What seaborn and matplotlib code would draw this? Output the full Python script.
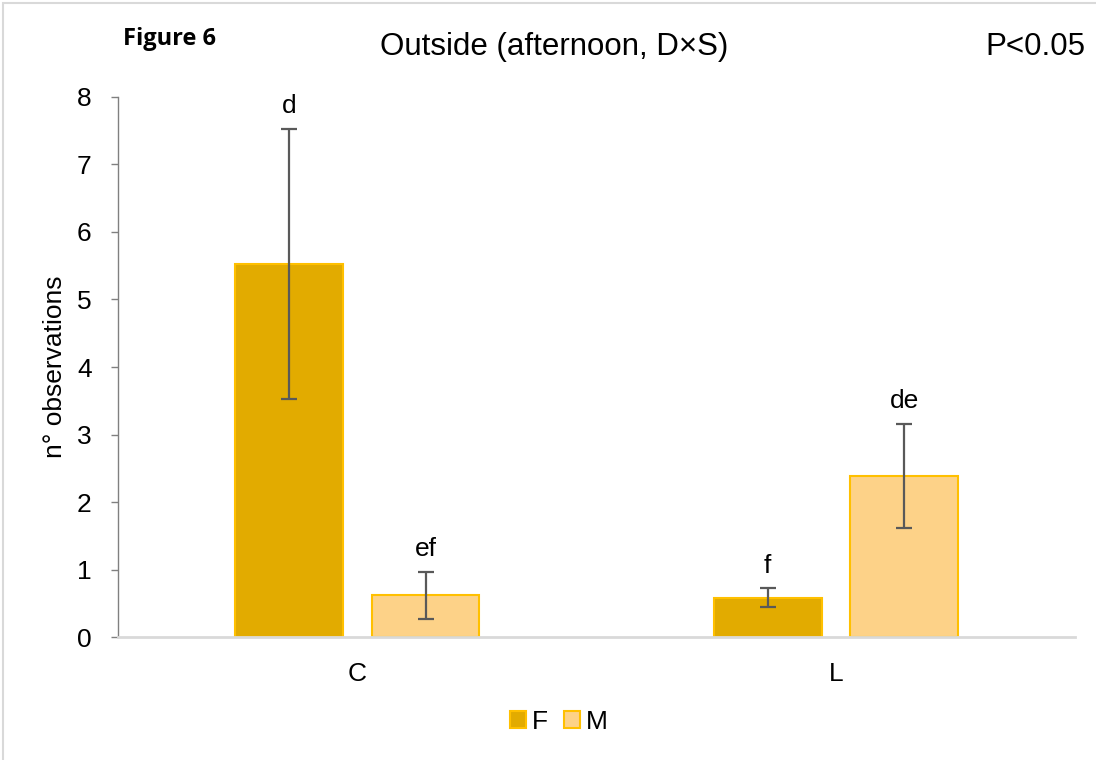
import pandas as pd
import matplotlib.pyplot as plt
import seaborn as sns
from matplotlib.patches import Rectangle

# values
sites = ['C', 'C', 'L', 'L']
sexes = ['F', 'M', 'F', 'M']
means = [5.53, 0.62, 0.58, 2.39]
errs = [2.0, 0.35, 0.14, 0.77]
letters = ['d', 'ef', 'f', 'de']

df = pd.DataFrame({'site': sites, 'sex': sexes, 'n': means})

sns.set_style('white')
plt.rcParams['font.family'] = ['Liberation Sans', 'DejaVu Sans']
plt.rcParams['text.color'] = 'black'
plt.rcParams['axes.labelcolor'] = 'black'
plt.rcParams['xtick.color'] = 'black'
plt.rcParams['ytick.color'] = 'black'

fig = plt.figure(figsize=(10.96, 7.6), dpi=100)
ax = fig.add_axes([0.1077, 0.1618, 0.8733, 0.7106])

sns.barplot(data=df, x='site', y='n', hue='sex', order=['C', 'L'], hue_order=['F', 'M'],
            palette={'F': '#E2AB00', 'M': '#FDD288'}, saturation=1,
            edgecolor='#FFC000', linewidth=1.5,
            width=0.57, gap=0.21, errorbar=None, ax=ax, legend=True)

# custom error bars + significance letters, placed on the drawn bars
bars = sorted(ax.patches[:4], key=lambda p: p.get_x())
for p, m, e, lab in zip(bars, means, errs, letters):
    xc = p.get_x() + p.get_width() / 2
    ax.errorbar(xc, m, yerr=e, fmt='none', ecolor='#595959', elinewidth=1.6,
                capsize=6, capthick=1.6, zorder=5)
    ax.text(xc, m + e + 0.16, lab, ha='center', va='bottom', fontsize=19)

ax.set_xlim(-0.5, 1.5)
ax.set_ylim(0, 8)
ax.set_yticks(range(0, 9))
ax.tick_params(axis='y', labelsize=19, length=5, width=1, color='#808080', direction='out', left=True, pad=14)
ax.tick_params(axis='x', labelsize=19, length=0, pad=18)
ax.set_xlabel('')
ax.set_ylabel('n° observations', fontsize=19, labelpad=7)

sns.despine(ax=ax, top=True, right=True)
ax.spines['left'].set_color('#808080')
ax.spines['left'].set_linewidth(1)
ax.spines['bottom'].set_color('#D9D9D9')
ax.spines['bottom'].set_linewidth(2)

leg = ax.legend(loc='center', bbox_to_anchor=(0.51, 0.05), bbox_transform=fig.transFigure,
                ncol=2, frameon=False, fontsize=19, handlelength=0.6, handleheight=0.6,
                handletextpad=0.25, columnspacing=0.6, borderpad=0)

fig.text(0.506, 0.938, 'Outside (afternoon, D×S)', ha='center', va='center', fontsize=22.5)
fig.text(0.945, 0.938, 'P<0.05', ha='center', va='center', fontsize=22.5)
fig.text(0.155, 0.949, 'Figure 6', ha='center', va='center', fontsize=17,
         fontweight='bold', family=['Open Sans', 'DejaVu Sans'])

# light frame around the chart area
fig.patches.append(Rectangle((0.003, -0.01), 1.2, 1.006, transform=fig.transFigure,
                             fill=False, edgecolor='#D9D9D9', linewidth=1.5))

fig.savefig('out.png', dpi=100)
